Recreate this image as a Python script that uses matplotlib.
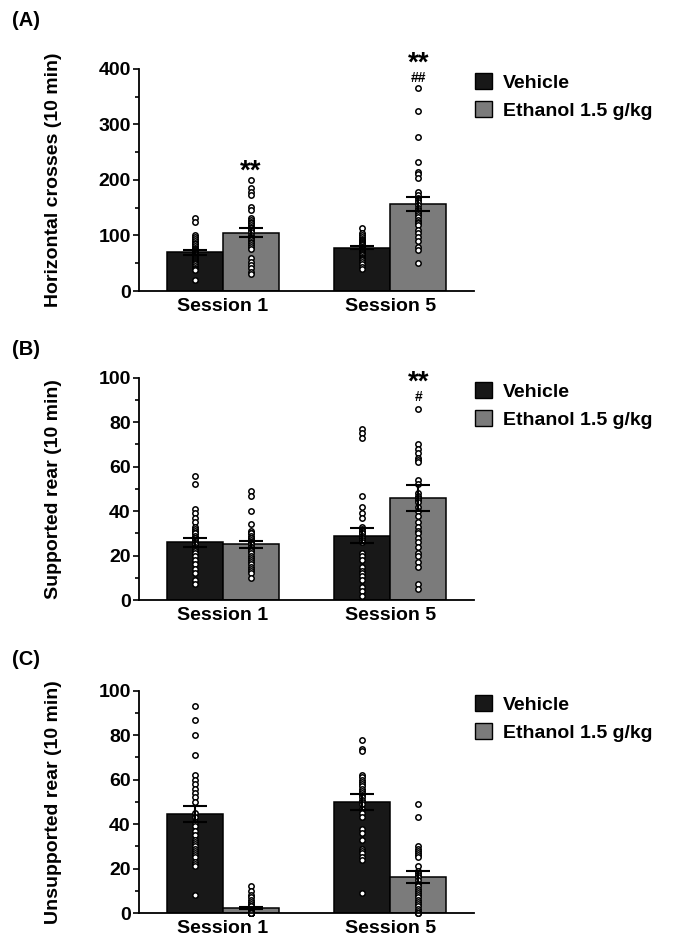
import matplotlib
matplotlib.use("Agg")
import matplotlib.pyplot as plt
from matplotlib.patches import Patch
from matplotlib.ticker import MultipleLocator

plt.rcParams['font.family'] = ['Liberation Sans', 'DejaVu Sans']
plt.rcParams['font.weight'] = 'bold'

sessions = ['Session 1', 'Session 5']
groups = ['Vehicle', 'Ethanol 1.5 g/kg']
bar_colors = ['#181818', '#7b7b7b']

# (A) horizontal crosses
cross_mean = [[70, 78], [105, 157]]
cross_sem = [[4.5, 3], [8, 12.5]]
cross_veh_s1 = [131, 125, 101, 97, 93, 90, 87, 84, 81, 78, 76, 74, 72, 70, 68, 66, 64, 62,
                60, 58, 56, 54, 52, 50, 48, 45, 42, 40, 38, 20]
cross_eth_s1 = [200, 185, 179, 173, 152, 145, 131, 128, 125, 122, 119, 116, 113, 110, 107, 101,
                98, 95, 92, 89, 86, 83, 80, 75, 59, 53, 47, 41, 35, 30]
cross_veh_s5 = [113, 104, 100, 97, 94, 92, 90, 88, 86, 84, 82, 80, 79, 78, 76, 75, 74, 72, 70,
                68, 66, 64, 62, 60, 58, 55, 52, 48, 44, 40]
cross_eth_s5 = [366, 324, 277, 232, 215, 211, 204, 179, 173, 168, 164, 160, 155, 150, 146, 142,
                140, 137, 133, 128, 125, 123, 118, 110, 104, 97, 90, 80, 74, 50]

# (B) supported rear
sup_mean = [[26, 29], [25, 46]]
sup_sem = [[2, 3.5], [1.6, 5.8]]
sup_veh_s1 = [56, 52, 41, 39, 37, 35, 33, 32, 31, 30, 30, 29, 28, 28, 27, 26, 25, 25, 24, 23,
              22, 22, 21, 20, 18, 16, 14, 12, 9, 7]
sup_eth_s1 = [49, 47, 40, 34, 31, 30, 30, 29, 28, 28, 27, 26, 26, 25, 24, 24, 23, 22, 22, 21,
              20, 19, 18, 17, 16, 15, 14, 13, 12, 10]
sup_veh_s5 = [77, 75, 73, 47, 42, 39, 37, 33, 32, 31, 30, 30, 29, 28, 28, 27, 26, 21, 20, 18,
              15, 13, 12, 11, 9, 6, 4, 2]
sup_eth_s5 = [86, 70, 68, 66, 64, 63, 62, 54, 52, 48, 47, 46, 45, 44, 42, 40, 38, 35, 33, 31,
              30, 28, 26, 24, 21, 20, 17, 15, 7, 5]

# (C) unsupported rear
unsup_mean = [[44.5, 50], [2.3, 16]]
unsup_sem = [[3.7, 3.7], [0.5, 2.7]]
unsup_veh_s1 = [93, 87, 80, 71, 62, 60, 58, 56, 54, 52, 50, 45, 43, 41, 39, 37, 35, 33, 32, 31,
                30, 29, 28, 27, 26, 25, 23, 22, 21, 8]
unsup_eth_s1 = [12, 10, 8, 7, 6, 5, 4, 3, 3, 2, 2, 2, 1, 1, 1, 1, 0, 0, 0, 0, 0, 0, 0, 0, 0,
                0, 0, 0, 0, 0]
unsup_veh_s5 = [78, 74, 73, 62, 61, 60, 59, 58, 57, 56, 55, 54, 53, 52, 51, 50, 49, 47, 45, 43,
                38, 36, 33, 29, 28, 27, 25, 24, 9]
unsup_eth_s5 = [49, 43, 30, 29, 28, 27, 26, 25, 21, 19, 18, 17, 16, 15, 13, 12, 11, 10, 9, 8,
                7, 6, 5, 4, 3, 2, 1, 0, 0, 0]

panels = [
    ('(A)', 'Horizontal crosses (10 min)', 400, 100, cross_mean, cross_sem,
     [[cross_veh_s1, cross_veh_s5], [cross_eth_s1, cross_eth_s5]]),
    ('(B)', 'Supported rear (10 min)', 100, 20, sup_mean, sup_sem,
     [[sup_veh_s1, sup_veh_s5], [sup_eth_s1, sup_eth_s5]]),
    ('(C)', 'Unsupported rear (10 min)', 100, 20, unsup_mean, unsup_sem,
     [[unsup_veh_s1, unsup_veh_s5], [unsup_eth_s1, unsup_eth_s5]]),
]

# significance marks: panel, group, session, text, y, size
marks = [
    (0, 1, 0, '**', 202, 20),
    (0, 1, 1, '**', 396, 20),
    (0, 1, 1, '##', 376, 10),
    (1, 1, 1, '**', 94.5, 20),
    (1, 1, 1, '#', 89.6, 10),
]

fig = plt.figure(figsize=(6.73, 9.40), dpi=100)
bottoms = [0.6904, 0.3617, 0.0287]
label_y = [0.978, 0.628, 0.298]
width = 1 / 3
axes = []

for p, (tag, ylab, ymax, step, means, sems, points) in enumerate(panels):
    ax = fig.add_axes([0.2065, bottoms[p], 0.4978, 0.2365])
    axes.append(ax)
    for g in range(2):
        xs = [s + (g - 0.5) * width for s in range(2)]
        ax.bar(xs, means[g], width=width, color=bar_colors[g], edgecolor='black',
               linewidth=1.1, zorder=1)
        for s in range(2):
            ax.scatter([xs[s]] * len(points[g][s]), points[g][s], s=15, facecolor='white',
                       edgecolor='black', linewidth=1.1, zorder=2, clip_on=False)
        ax.errorbar(xs, means[g], yerr=sems[g], fmt='none', ecolor='black',
                    elinewidth=1.5, capsize=8.3, capthick=1.5, zorder=3)

    ax.set_xlim(-0.5, 1.5)
    ax.set_ylim(0, ymax)
    ax.yaxis.set_major_locator(MultipleLocator(step))
    ax.yaxis.set_minor_locator(MultipleLocator(step / 2))
    ax.set_xticks([0, 1])
    ax.set_xticklabels(sessions, fontsize=14, fontweight='bold')
    ax.tick_params(axis='x', length=0, pad=5)
    ax.tick_params(axis='y', which='major', length=4, width=1.2, labelsize=14, pad=2)
    ax.tick_params(axis='y', which='minor', length=3, width=1.2)
    for lab in ax.get_yticklabels():
        lab.set_fontweight('bold')
    for side in ['top', 'right']:
        ax.spines[side].set_visible(False)
    for side in ['left', 'bottom']:
        ax.spines[side].set_linewidth(1.3)
    ax.set_ylabel(ylab, fontsize=14, fontweight='bold')
    ax.yaxis.set_label_coords(-0.23, 0.5)

    handles = [Patch(facecolor=bar_colors[g], edgecolor='black', linewidth=1.0) for g in range(2)]
    ax.legend(handles, groups, loc='upper left', bbox_to_anchor=(1.003, 0.98), frameon=False,
              prop={'weight': 'bold', 'size': 14}, handlelength=0.85,
              handleheight=0.85, handletextpad=0.6, labelspacing=0.5, borderpad=0,
              borderaxespad=0)

    fig.text(0.018, label_y[p], tag, fontsize=14.5, fontweight='bold', va='center')

for p, g, s, txt, y, size in marks:
    x = s + (g - 0.5) * width
    axes[p].text(x, y, txt, ha='center', va='baseline', fontsize=size, fontweight='bold',
                 clip_on=False)

fig.savefig('out.png', dpi=100)
